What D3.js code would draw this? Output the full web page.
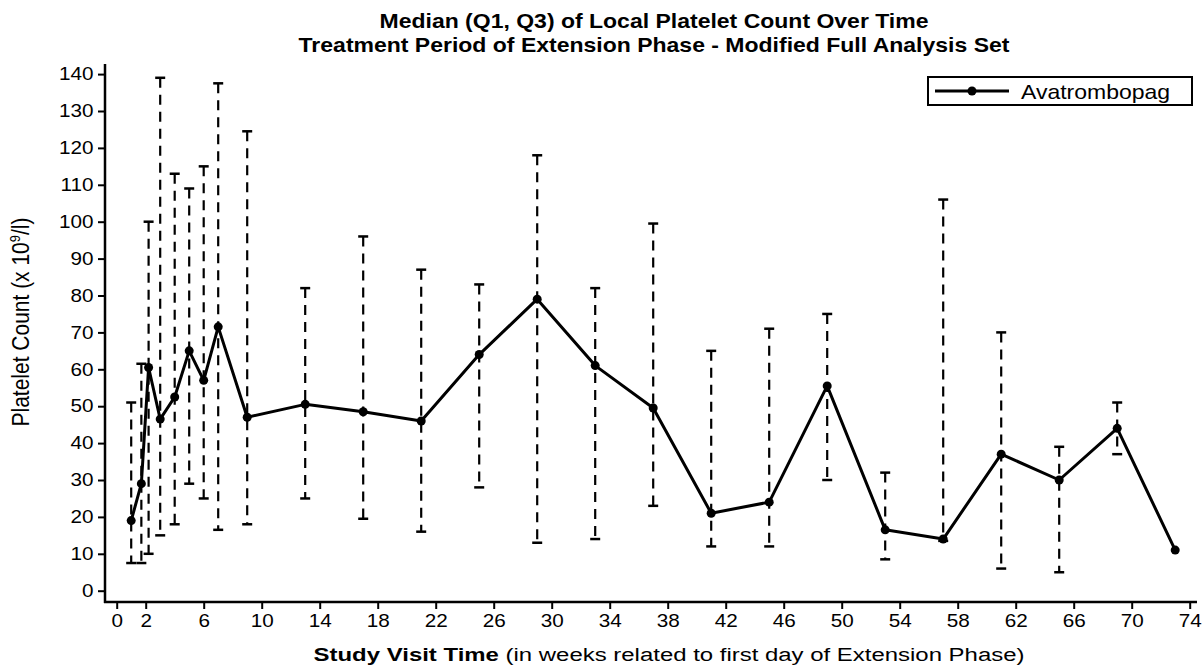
<!DOCTYPE html>
<html>
<head>
<meta charset="utf-8">
<script src="https://cdn.jsdelivr.net/npm/d3@7"></script>
<style>
  html, body { margin: 0; padding: 0; background: #fff; }
  svg { display: block; }
  text { font-family: "Liberation Sans", Arial, Helvetica, sans-serif; fill: #000; }
</style>
</head>
<body>
<svg id="chart" width="1204" height="666"></svg>
<script>
// Visit weeks and platelet summaries (x 10^9/l)
const weeks  = [1, 1.7, 2.2, 3, 4, 5, 6, 7, 9, 13, 17, 21, 25, 29, 33, 37, 41, 45, 49, 53, 57, 61, 65, 69, 73];
const median = [19, 29, 60.5, 46.5, 52.5, 65, 57, 71.5, 47, 50.5, 48.5, 46, 64, 79, 61, 49.5, 21, 24, 55.5, 16.5, 14, 37, 30, 44, 11];
const q1     = [7.5, 7.5, 10, 15, 18, 29, 25, 16.5, 18, 25, 19.5, 16, 28, 13, 14, 23, 12, 12, 30, 8.5, 13.5, 6, 5, 37, null];
const q3     = [51, 61.5, 100, 139, 113, 109, 115, 137.5, 124.5, 82, 96, 87, 83, 118, 82, 99.5, 65, 71, 75, 32, 106, 70, 39, 51, null];

const xTicks = [0, 2, 6, 10, 14, 18, 22, 26, 30, 34, 38, 42, 46, 50, 54, 58, 62, 66, 70, 74];
const yTicks = [0, 10, 20, 30, 40, 50, 60, 70, 80, 90, 100, 110, 120, 130, 140];

const seriesName = "Avatrombopag";
const titleLines = [
  "Median (Q1, Q3) of Local Platelet Count Over Time",
  "Treatment Period of Extension Phase - Modified Full Analysis Set"
];

const SX = 1.15; // horizontal text stretch

const svg = d3.select("#chart");

const x = d3.scaleLinear().domain([0, 74]).range([116.7, 1189.7]);
const y = d3.scaleLinear().domain([0, 140]).range([590.7, 74.1]);

// frame lines
const axisLeftX = 105, axisBottomY = 602;
svg.append("line")
  .attr("x1", axisLeftX).attr("x2", axisLeftX)
  .attr("y1", 64).attr("y2", axisBottomY + 1)
  .attr("stroke", "#000").attr("stroke-width", 2.5);
svg.append("line")
  .attr("x1", axisLeftX - 1).attr("x2", 1197)
  .attr("y1", axisBottomY).attr("y2", axisBottomY)
  .attr("stroke", "#000").attr("stroke-width", 2.5);

// y axis
const gy = svg.append("g")
  .attr("transform", `translate(${axisLeftX},0)`)
  .call(d3.axisLeft(y).tickValues(yTicks).tickSize(7).tickPadding(3).tickSizeOuter(0));
gy.select(".domain").remove();
gy.selectAll(".tick line").attr("stroke", "#000").attr("stroke-width", 2);
gy.selectAll(".tick text")
  .attr("font-size", 18)
  .attr("font-family", "Liberation Sans, Arial, sans-serif")
  .attr("fill", "#000")
  .attr("transform", `scale(${SX},1)`);

// x axis
const gx = svg.append("g")
  .attr("transform", `translate(0,${axisBottomY})`)
  .call(d3.axisBottom(x).tickValues(xTicks).tickSize(7).tickPadding(5).tickSizeOuter(0));
gx.select(".domain").remove();
gx.selectAll(".tick line").attr("stroke", "#000").attr("stroke-width", 2);
gx.selectAll(".tick text")
  .attr("font-size", 18)
  .attr("font-family", "Liberation Sans, Arial, sans-serif")
  .attr("fill", "#000")
  .attr("transform", `scale(${SX},1)`);

// rows for drawing
const rows = weeks.map((w, i) => ({ w, m: median[i], lo: q1[i], hi: q3[i] }));
const withRange = rows.filter(d => d.lo != null && d.hi != null);

// dashed Q1-Q3 whiskers
svg.append("g").selectAll("line")
  .data(withRange).join("line")
  .attr("x1", d => x(d.w)).attr("x2", d => x(d.w))
  .attr("y1", d => y(d.hi)).attr("y2", d => y(d.lo))
  .attr("stroke", "#000").attr("stroke-width", 2.2)
  .attr("stroke-dasharray", "10,7");

// caps
const capW = 5;
const caps = svg.append("g");
caps.selectAll("line.hi")
  .data(withRange).join("line").attr("class", "hi")
  .attr("x1", d => x(d.w) - capW).attr("x2", d => x(d.w) + capW)
  .attr("y1", d => y(d.hi)).attr("y2", d => y(d.hi))
  .attr("stroke", "#000").attr("stroke-width", 2.5);
caps.selectAll("line.lo")
  .data(withRange).join("line").attr("class", "lo")
  .attr("x1", d => x(d.w) - capW).attr("x2", d => x(d.w) + capW)
  .attr("y1", d => y(d.lo)).attr("y2", d => y(d.lo))
  .attr("stroke", "#000").attr("stroke-width", 2.5);

// median line and markers
const line = d3.line().x(d => x(d.w)).y(d => y(d.m));
svg.append("path")
  .datum(rows)
  .attr("d", line)
  .attr("fill", "none")
  .attr("stroke", "#000")
  .attr("stroke-width", 3)
  .attr("stroke-linejoin", "round");
svg.append("g").selectAll("circle")
  .data(rows).join("circle")
  .attr("cx", d => x(d.w)).attr("cy", d => y(d.m))
  .attr("r", 4.5).attr("fill", "#000");

// title
svg.append("g").selectAll("text")
  .data(titleLines).join("text")
  .attr("transform", (d, i) => `translate(654,${28 + i * 24}) scale(${SX},1)`)
  .attr("text-anchor", "middle")
  .attr("font-size", 20)
  .attr("font-weight", "bold")
  .text(d => d);

// x axis title
const xt = svg.append("text")
  .attr("transform", `translate(669,661) scale(1.26,1)`)
  .attr("text-anchor", "middle")
  .attr("font-size", 19);
xt.append("tspan").attr("font-weight", "bold").text("Study Visit Time");
xt.append("tspan").text(" (in weeks related to first day of Extension Phase)");

// y axis title
const yt = svg.append("text")
  .attr("transform", `translate(29,322) scale(${SX},1) rotate(-90)`)
  .attr("text-anchor", "middle")
  .attr("font-size", 21);
yt.append("tspan").text("Platelet Count (x 10");
yt.append("tspan").attr("font-size", 13).attr("dy", -8).text("9");
yt.append("tspan").attr("dy", 8).text("/l)");

// legend
const lg = svg.append("g");
lg.append("rect")
  .attr("x", 928).attr("y", 77).attr("width", 264).attr("height", 28)
  .attr("fill", "#fff").attr("stroke", "#000").attr("stroke-width", 2);
lg.append("line")
  .attr("x1", 935).attr("x2", 1009).attr("y1", 91).attr("y2", 91)
  .attr("stroke", "#000").attr("stroke-width", 3);
lg.append("circle").attr("cx", 972).attr("cy", 91).attr("r", 4.5).attr("fill", "#000");
lg.append("text")
  .attr("transform", `translate(1021,98.5) scale(${SX},1)`)
  .attr("font-size", 20)
  .text(seriesName);
</script>
</body>
</html>
